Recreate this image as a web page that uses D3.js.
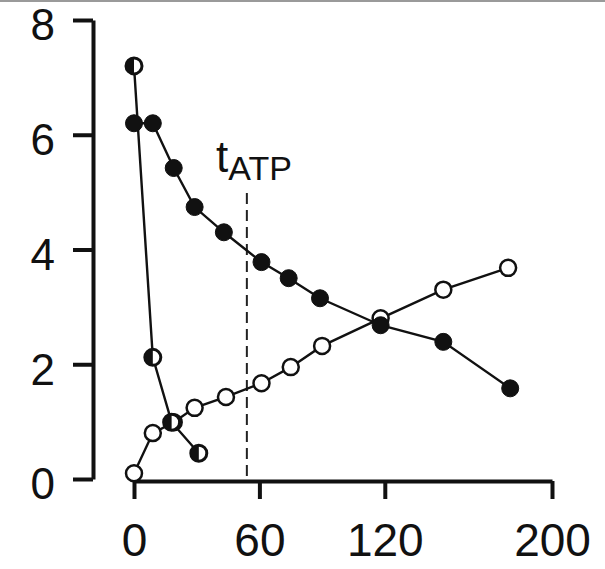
<!DOCTYPE html>
<html>
<head>
<meta charset="utf-8">
<script src="https://cdn.jsdelivr.net/npm/d3@7"></script>
<style>
  html, body { margin: 0; padding: 0; background: #fff; }
  svg { display: block; }
  text { font-family: "Liberation Sans", Arial, Helvetica, sans-serif; fill: #111; }
</style>
</head>
<body>
<svg id="chart" width="605" height="569"></svg>
<script>
// Time points (x) and concentrations (y) for each series
const fallingTime   = [0, 9, 19, 29, 43, 61, 74, 89, 118, 148, 180];
const fallingValues = [6.2, 6.2, 5.42, 4.74, 4.3, 3.78, 3.5, 3.15, 2.68, 2.39, 1.58];

const risingTime    = [0, 9, 19, 29, 44, 61, 75, 90, 118, 148, 179];
const risingValues  = [0.1, 0.8, 0.99, 1.24, 1.43, 1.67, 1.95, 2.32, 2.8, 3.3, 3.68];

const fastTime      = [0, 9, 18, 31];
const fastValues    = [7.2, 2.12, 0.99, 0.45];

const xTicks = [0, 60, 120, 200];
const yTicks = [0, 2, 4, 6, 8];
const markerTime = 54;
const markerLabel = "t";
const markerSub = "ATP";

const svg = d3.select("#chart");

// thin grey border along the top edge
svg.append("rect").attr("x", 0).attr("y", 0).attr("width", 605).attr("height", 2).attr("fill", "#9a9a9a");

const x = d3.scaleLinear().domain([0, 200]).range([134, 552]);
const y = d3.scaleLinear().domain([0, 8]).range([479, 20]);

// y axis (offset range frame)
const yAxis = svg.append("g")
  .attr("transform", "translate(93,0)")
  .call(d3.axisLeft(y).tickValues(yTicks).tickSize(20).tickSizeOuter(0).tickPadding(18));
yAxis.select(".domain").attr("stroke", "#111").attr("stroke-width", 4);
yAxis.selectAll(".tick line").attr("stroke", "#111").attr("stroke-width", 4);
yAxis.selectAll(".tick text").attr("font-size", 44).attr("dy", "0.45em").attr("fill", "#111")
  .style("font-family", "'Liberation Sans', Arial, sans-serif");

// x axis
const xAxis = svg.append("g")
  .attr("transform", "translate(0,481)")
  .call(d3.axisBottom(x).tickValues(xTicks).tickSize(18).tickSizeOuter(0).tickPadding(24));
xAxis.select(".domain").attr("stroke", "#111").attr("stroke-width", 4);
xAxis.selectAll(".tick line").attr("stroke", "#111").attr("stroke-width", 4);
xAxis.selectAll(".tick text").attr("font-size", 46).attr("fill", "#111")
  .style("font-family", "'Liberation Sans', Arial, sans-serif");

// dashed vertical marker and its label
svg.append("line")
  .attr("x1", x(markerTime)).attr("x2", x(markerTime))
  .attr("y1", 193).attr("y2", y(0))
  .attr("stroke", "#222").attr("stroke-width", 2)
  .attr("stroke-dasharray", "11,6");

const lbl = svg.append("text").attr("x", 216).attr("y", 172).attr("font-size", 44);
lbl.append("tspan").text(markerLabel);
lbl.append("tspan").attr("font-size", 34).attr("dy", 8).text(markerSub);

const line = d3.line().x(d => x(d[0])).y(d => y(d[1]));
const zip = (a, b) => a.map((v, i) => [v, b[i]]);

const falling = zip(fallingTime, fallingValues);
const rising = zip(risingTime, risingValues);
const fast = zip(fastTime, fastValues);

[falling, rising, fast].forEach(pts => {
  svg.append("path").attr("d", line(pts))
    .attr("fill", "none").attr("stroke", "#111").attr("stroke-width", 2.4);
});

const r = 8;

// open circles
svg.append("g").selectAll("circle").data(rising).join("circle")
  .attr("cx", d => x(d[0])).attr("cy", d => y(d[1])).attr("r", r)
  .attr("fill", "#fff").attr("stroke", "#111").attr("stroke-width", 2.5);

// half-filled circles
const half = svg.append("g").selectAll("g").data(fast).join("g")
  .attr("transform", d => `translate(${x(d[0])},${y(d[1])})`);
half.append("circle").attr("r", r).attr("fill", "#fff").attr("stroke", "#111").attr("stroke-width", 3);
half.append("path")
  .attr("d", `M0,${-r} A${r},${r} 0 0 0 0,${r} Z`)
  .attr("fill", "#111");

// filled circles
svg.append("g").selectAll("circle").data(falling).join("circle")
  .attr("cx", d => x(d[0])).attr("cy", d => y(d[1])).attr("r", r + 0.5)
  .attr("fill", "#111").attr("stroke", "#111").attr("stroke-width", 1);
</script>
</body>
</html>
